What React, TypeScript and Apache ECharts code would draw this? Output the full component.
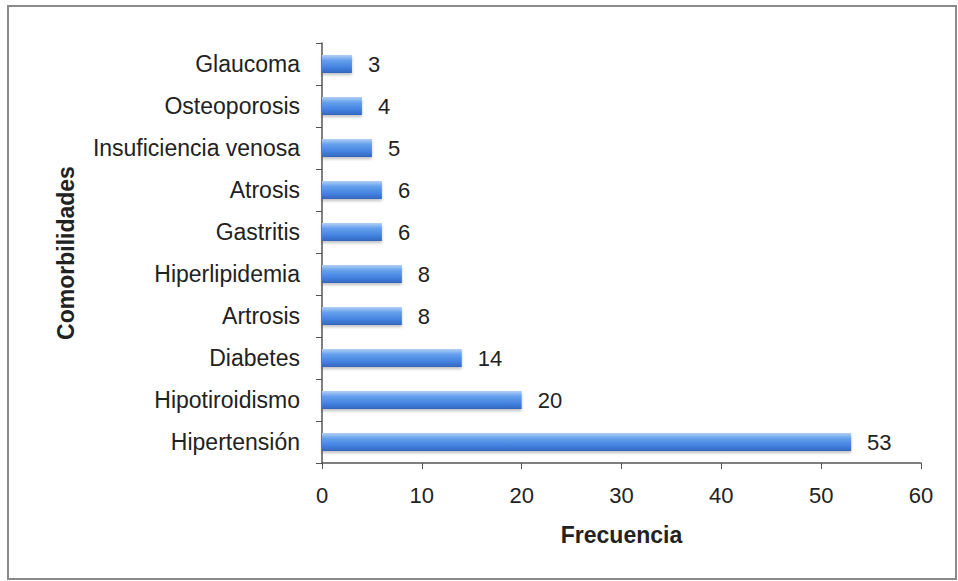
import React, { useEffect, useRef } from "react";
import * as echarts from "echarts";

const categories = [
  "Hipertensión",
  "Hipotiroidismo",
  "Diabetes",
  "Artrosis",
  "Hiperlipidemia",
  "Gastritis",
  "Atrosis",
  "Insuficiencia venosa",
  "Osteoporosis",
  "Glaucoma",
];
const values = [53, 20, 14, 8, 8, 6, 6, 5, 4, 3];
const xTicks = [0, 10, 20, 30, 40, 50, 60];

export default function App() {
  const ref = useRef<HTMLDivElement>(null);
  useEffect(() => {
    if (!ref.current) return;
    const chart = echarts.init(ref.current, undefined, { renderer: "svg" });
    const font = "Liberation Sans, Arial, sans-serif";
    chart.setOption({
      animation: false,
      backgroundColor: "#ffffff",
      graphic: [
        {
          type: "rect",
          shape: { x: 8, y: 6, width: 948, height: 573 },
          style: { fill: "none", stroke: "#8a8a8a", lineWidth: 2 },
          silent: true,
        },
      ],
      grid: { left: 322, right: 37, top: 43, bottom: 118, containLabel: false },
      xAxis: {
        type: "value",
        min: xTicks[0],
        max: xTicks[xTicks.length - 1],
        interval: 10,
        name: "Frecuencia",
        nameLocation: "middle",
        nameGap: 60,
        nameTextStyle: { fontFamily: font, fontSize: 23, fontWeight: "bold", color: "#222" },
        axisLine: { show: true, lineStyle: { color: "#555", width: 1.5 } },
        axisTick: { show: true, length: 6, inside: false, lineStyle: { color: "#555" } },
        axisLabel: { fontFamily: font, fontSize: 22, color: "#222", margin: 21 },
        splitLine: { show: false },
      },
      yAxis: {
        type: "category",
        data: categories,
        name: "Comorbilidades",
        nameLocation: "middle",
        nameGap: 245,
        nameRotate: 90,
        nameTextStyle: { fontFamily: font, fontSize: 23, fontWeight: "bold", color: "#222" },
        axisLine: { show: true, lineStyle: { color: "#555", width: 1.5 } },
        axisTick: { show: true, length: 6, lineStyle: { color: "#555" } },
        axisLabel: { fontFamily: font, fontSize: 23, color: "#222", margin: 22 },
      },
      series: [
        {
          type: "bar",
          data: values,
          barWidth: "43%",
          itemStyle: {
            color: new echarts.graphic.LinearGradient(0, 0, 0, 1, [
              { offset: 0, color: "#b3d0f5" },
              { offset: 0.3, color: "#64a0ec" },
              { offset: 0.7, color: "#4382e0" },
              { offset: 1, color: "#3466bd" },
            ]),
            shadowColor: "rgba(0,0,0,0.25)",
            shadowBlur: 3,
            shadowOffsetY: 2,
          },
          label: {
            show: true,
            position: "right",
            distance: 16,
            fontFamily: font,
            fontSize: 22,
            color: "#222",
          },
        },
      ],
    });
    return () => chart.dispose();
  }, []);
  return (
    <div
      ref={ref}
      style={{ position: "absolute", left: 0, top: 0, width: 958, height: 581 }}
    />
  );
}
